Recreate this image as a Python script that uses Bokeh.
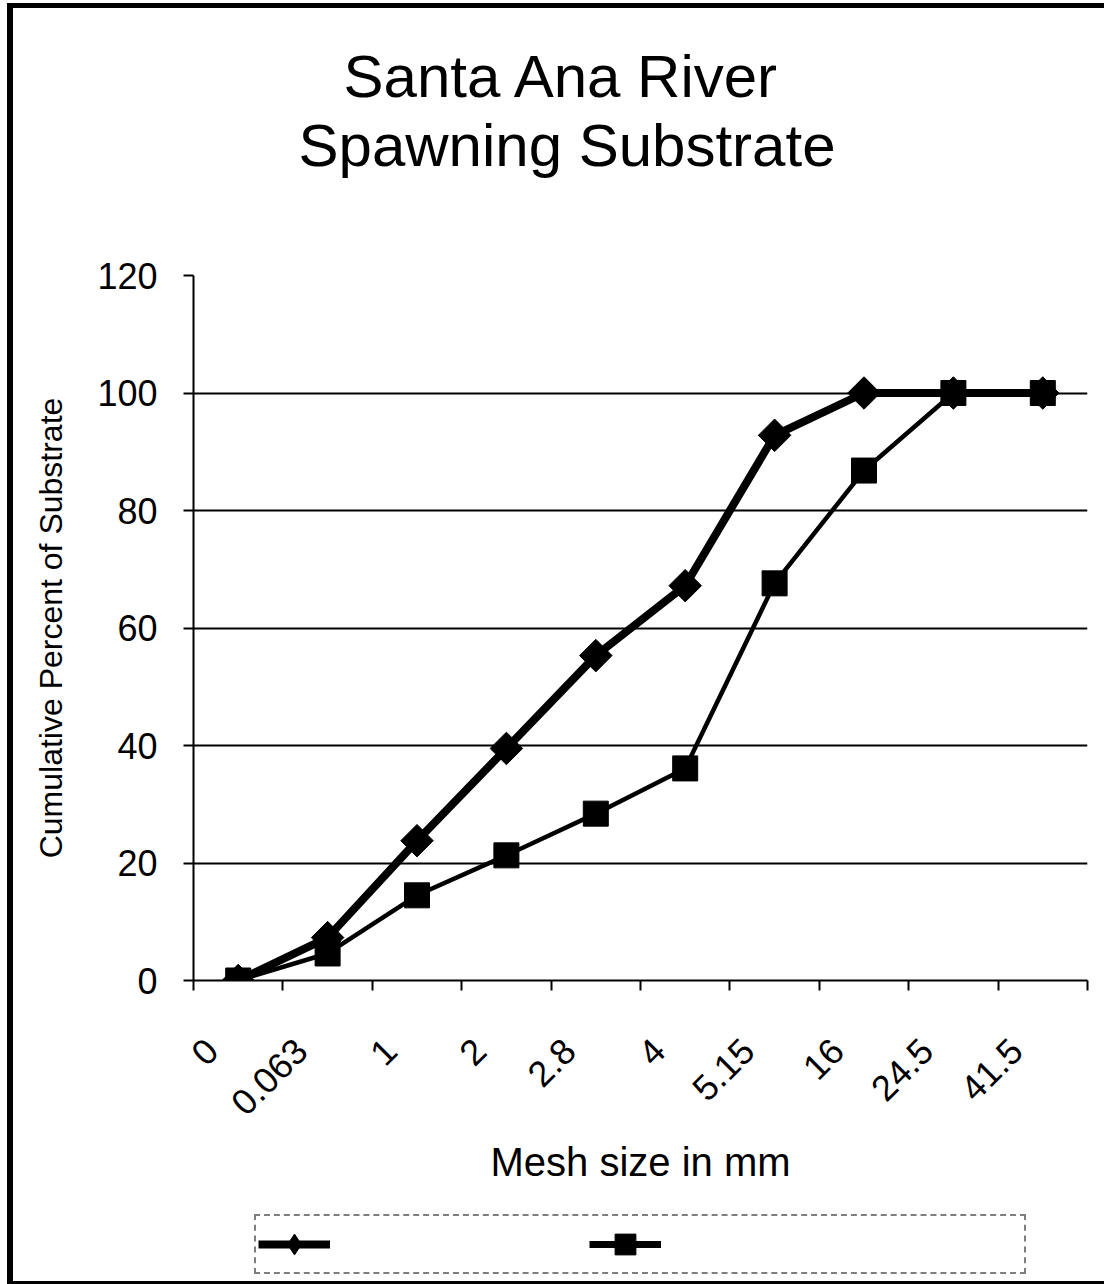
import math
from bokeh.plotting import figure
from bokeh.layouts import column
from bokeh.models import (FixedTicker, Legend, LegendItem, Range1d, Title)
from bokeh.embed import file_html
from bokeh.resources import INLINE

# ---------------- data ----------------
categories = ["0", "0.063", "1", "2", "2.8", "4", "5.15", "16", "24.5", "41.5"]
series_diamond = [0, 7.3, 23.8, 39.5, 55.3, 67.2, 92.8, 100, 100, 100]
series_square = [0, 4.6, 14.5, 21.3, 28.4, 36.1, 67.6, 86.8, 100, 100]
y_ticks = [0, 20, 40, 60, 80, 100, 120]
grid_ticks = [20, 40, 60, 80, 100]
title_lines = ["Santa Ana River", "Spawning Substrate"]
x_title = "Mesh size in mm"
y_title = "Cumulative Percent of Substrate"

FONT = "Liberation Sans"
n = len(categories)
xs = [i + 0.5 for i in range(n)]
LABEL_SHIFT = 0.30  # rotated category labels end a little left of centre

p = figure(frame_width=894, frame_height=705, output_backend="svg",
           toolbar_location=None,
           x_range=Range1d(0, n), y_range=Range1d(0, 120),
           min_border_left=193, min_border_right=17, min_border_top=275,
           min_border_bottom=225)
p.outline_line_color = None
p.background_fill_color = "white"
p.border_fill_alpha = 0
p.styles = {"box-shadow": ("inset 7px 0 0 0 white, inset 0 3px 0 0 white, "
                           "inset 13px 0 0 0 black, inset 0 8px 0 0 black")}

# y axis
ya = p.yaxis[0]
ya.ticker = FixedTicker(ticks=y_ticks)
ya.major_label_text_font = FONT
ya.major_label_text_font_size = "36px"
ya.major_label_text_color = "black"
ya.major_label_standoff = 26
ya.major_tick_out = 10
ya.major_tick_in = 0
ya.minor_tick_out = 0
ya.minor_tick_in = 0
ya.axis_line_width = 2
ya.axis_line_color = "black"
ya.major_tick_line_width = 2
ya.major_tick_line_color = "black"
ya.axis_label = y_title
ya.axis_label_text_font = FONT
ya.axis_label_text_font_size = "32px"
ya.axis_label_text_font_style = "normal"
ya.axis_label_text_color = "black"
ya.axis_label_standoff = 25

# x axis: labels at category centres, tick marks between categories
label_pos = [x - LABEL_SHIFT for x in xs]
xa = p.xaxis[0]
xa.ticker = FixedTicker(ticks=label_pos, minor_ticks=list(range(n + 1)))
xa.major_label_overrides = {pos: c for pos, c in zip(label_pos, categories)}
xa.major_label_orientation = math.pi / 4
xa.major_label_text_font = FONT
xa.major_label_text_font_size = "36px"
xa.major_label_text_color = "black"
xa.major_label_standoff = 54
xa.major_tick_out = 0
xa.major_tick_in = 0
xa.major_tick_line_color = None
xa.minor_tick_out = 10
xa.minor_tick_in = 0
xa.minor_tick_line_width = 2
xa.minor_tick_line_color = "black"
xa.axis_line_width = 2
xa.axis_line_color = "black"
xa.axis_label = x_title
xa.axis_label_text_font = FONT
xa.axis_label_text_font_size = "40px"
xa.axis_label_text_font_style = "normal"
xa.axis_label_text_color = "black"
xa.axis_label_standoff = 10

# grid
p.xgrid.visible = False
p.ygrid.ticker = FixedTicker(ticks=grid_ticks)
p.ygrid.grid_line_color = "black"
p.ygrid.grid_line_width = 2

# series
p.line(xs, series_square, line_color="black", line_width=4.5)
p.scatter(xs, series_square, marker="square", size=25,
          fill_color="black", line_color="black")
p.line(xs, series_diamond, line_color="black", line_width=8)
p.scatter(xs, series_diamond, marker="square", size=23, angle=math.pi / 4,
          fill_color="black", line_color="black")

# titles (first added sits closest to the plot); blank spacer first
p.add_layout(Title(text=" ", standoff=84, text_font=FONT,
                   text_font_size="10px"), "above")
p.add_layout(Title(text=title_lines[1], align="left", offset=105, standoff=0,
                   text_font=FONT, text_font_size="60px",
                   text_font_style="normal", text_color="black"), "above")
p.add_layout(Title(text=title_lines[0], align="left", offset=150, standoff=0,
                   text_font=FONT, text_font_size="60px",
                   text_font_style="normal", text_color="black"), "above")

# ---------------- legend strip below the chart ----------------
lg = figure(width=1104, height=79, output_backend="svg", toolbar_location=None,
            x_axis_location=None, y_axis_location=None, min_border=0,
            x_range=Range1d(100, 101), y_range=Range1d(0, 120))
lg.outline_line_color = None
lg.grid.visible = False
lg.border_fill_alpha = 0
lg.background_fill_alpha = 0
lg.styles = {"box-shadow": ("inset 7px 0 0 0 white, inset 13px 0 0 0 black, "
                            "inset 0 -3px 0 0 black")}
# swatch renderers (series outside the strip's visible range)
k1 = lg.line(xs, series_diamond, line_color="black", line_width=8)
k1m = lg.scatter(xs, series_diamond, marker="diamond", size=22,
                 fill_color="black", line_color="black")
k2 = lg.line(xs, series_square, line_color="black", line_width=7)
k2m = lg.scatter(xs, series_square, marker="square", size=25,
                 fill_color="black", line_color="black")
kpad = lg.line(xs, series_square, line_alpha=0)

legend = Legend(items=[LegendItem(label=" ", renderers=[k1, k1m]),
                       LegendItem(label=" ", renderers=[k2, k2m]),
                       LegendItem(label=" ", renderers=[kpad])],
                orientation="horizontal", location=(61, 10),
                glyph_width=72, glyph_height=52, label_standoff=0,
                label_width=30, spacing=229, padding=2, margin=0,
                border_line_color="black", border_line_dash="6 4",
                border_line_width=2, label_text_font_size="10px",
                background_fill_alpha=0)
lg.add_layout(legend)

open("out.html", "w").write(file_html(column(p, lg), INLINE))
